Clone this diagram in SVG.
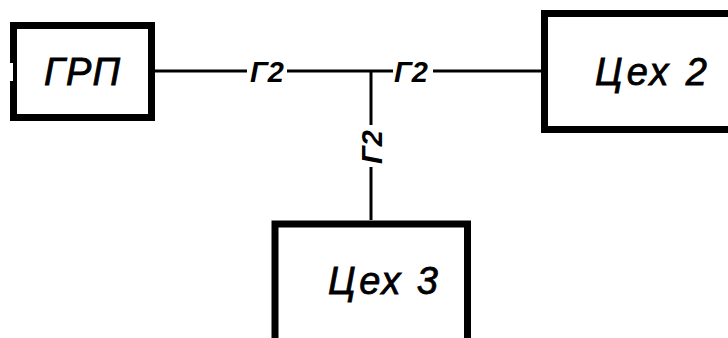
<svg xmlns="http://www.w3.org/2000/svg" width="728" height="338" viewBox="0 0 728 338">
<style>
.box{fill:#fff;stroke:#000;stroke-width:7}
.wire{stroke:#000;stroke-width:3;fill:none}
.t{font-family:"Liberation Sans",Arial,sans-serif;font-style:italic;fill:#000}
.big{font-size:38px;stroke:#000;stroke-width:0.8}
.lbl{font-size:29px;font-weight:bold}
</style>
<rect width="728" height="338" fill="#fff"/>
<g id="connectors">
<line class="wire" x1="155" y1="71" x2="247" y2="71"/>
<line class="wire" x1="287" y1="71" x2="393" y2="71"/>
<line class="wire" x1="433" y1="71" x2="541" y2="71"/>
<line class="wire" x1="371" y1="71" x2="371" y2="125"/>
<line class="wire" x1="371" y1="167" x2="371" y2="220"/>
<text class="t lbl" x="267" y="82" text-anchor="middle">Г2</text>
<text class="t lbl" x="411" y="82" text-anchor="middle">Г2</text>
<text class="t lbl" transform="translate(382 147) rotate(-90)" text-anchor="middle">Г2</text>
</g>
<g id="grp">
<rect class="box" x="13.5" y="25.5" width="138" height="92"/>
<rect x="9" y="63" width="4" height="18" fill="#fff"/>
<text class="t big" x="44" y="85" textLength="76" lengthAdjust="spacing">ГРП</text>
</g>
<g id="cex2">
<rect class="box" x="544.5" y="13.5" width="200" height="116"/>
<text class="t big" x="595" y="85" textLength="112" lengthAdjust="spacing">Цех 2</text>
</g>
<g id="cex3">
<rect class="box" x="275" y="224" width="192.5" height="130"/>
<text class="t big" x="328" y="294" textLength="110" lengthAdjust="spacing">Цех 3</text>
</g>
</svg>
